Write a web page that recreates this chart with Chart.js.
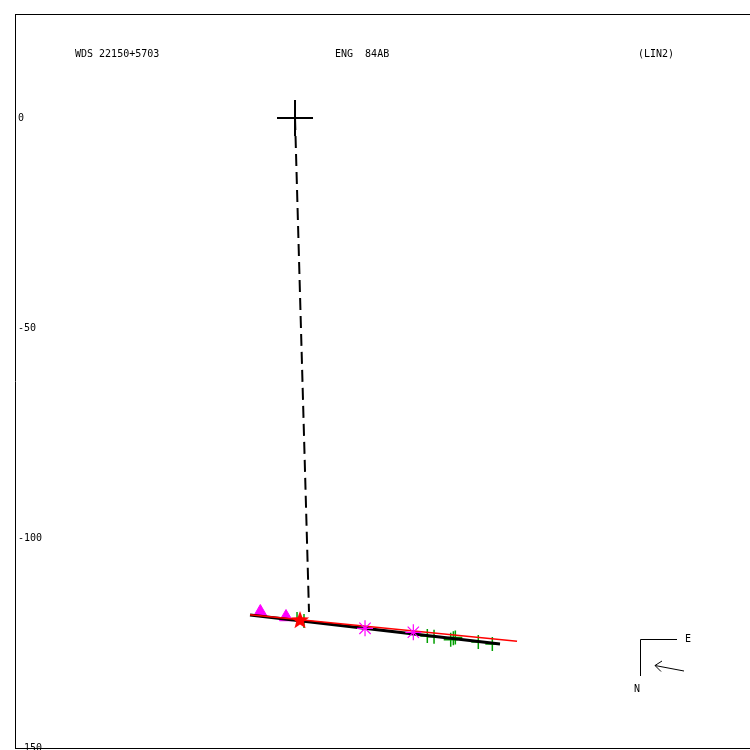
<!DOCTYPE html>
<html>
<head>
<meta charset="utf-8">
<script src="https://cdn.jsdelivr.net/npm/chart.js@4/dist/chart.umd.min.js"></script>
<style>
html,body{margin:0;padding:0;background:#fff;}
canvas{display:block;}
</style>
</head>
<body>
<canvas id="c" width="750" height="750"></canvas>
<script>
// ---- data ----
const titleLeft = "WDS 22150+5703";
const titleMid = "ENG  84AB";
const titleRight = "(LIN2)";
const yTickValues = [0, -50, -100, -150];

const primaryX = [0];
const primaryY = [0];

const dashX = [0, 3.33];
const dashY = [0, -117.6];

const blackLineX = [-10.71, 48.81];
const blackLineY = [-118.33, -125.24];

const redLineX = [-10.71, 52.86];
const redLineY = [-118.26, -124.6];

const triangleX = [-8.26, -2.14];
const triangleY = [-117.62, -118.81];

const starX = [1.19];
const starY = [-119.52];

const asteriskX = [16.67, 28.17];
const asteriskY = [-121.5, -122.45];

const plusX = [0.48, 2.14, 31.5, 33.1, 37.07, 37.7, 38.17, 43.64, 46.98];
const plusY = [-119.29, -119.76, -123.33, -123.5, -124.2, -123.88, -123.69, -124.76, -125.24];

const xMin = -66.67, xMax = 108.33;
const yMin = -150, yMax = 24.76;

function pts(xs, ys){ return xs.map((x,i)=>({x:x, y:ys[i]})); }

// filled red star marker
const starImg = document.createElement('canvas');
starImg.width = 20; starImg.height = 20;
(function(){
  const g = starImg.getContext('2d');
  g.fillStyle = '#ff0000';
  g.beginPath();
  for (let i=0;i<10;i++){
    const r = (i%2===0) ? 9.5 : 4;
    const a = -Math.PI/2 + i*Math.PI/5;
    const px = 10 + r*Math.cos(a), py = 10.5 + r*Math.sin(a);
    if (i===0) g.moveTo(px,py); else g.lineTo(px,py);
  }
  g.closePath();
  g.fill();
})();

const FONT = '10px "DejaVu Sans Mono", "Liberation Mono", monospace';

const decor = {
  id: 'decor',
  afterDraw(chart){
    const ctx = chart.ctx;
    const a = chart.chartArea;
    ctx.save();
    ctx.strokeStyle = '#000';
    ctx.lineWidth = 1;
    ctx.beginPath();
    ctx.moveTo(a.left, a.top + 0.5); ctx.lineTo(a.right + 2, a.top + 0.5);
    ctx.moveTo(a.left, a.bottom + 0.5); ctx.lineTo(a.right + 2, a.bottom + 0.5);
    ctx.stroke();

    ctx.fillStyle = '#000';
    ctx.font = FONT;
    ctx.textBaseline = 'middle';
    ctx.textAlign = 'left';
    ctx.fillText(titleLeft, 75, 54);
    ctx.fillText(titleMid, 335, 54);
    ctx.fillText(titleRight, 638, 54);

    // compass
    ctx.beginPath();
    ctx.moveTo(640.5, 676); ctx.lineTo(640.5, 639.5); ctx.lineTo(677, 639.5);
    ctx.stroke();
    ctx.textAlign = 'center';
    ctx.fillText('E', 688, 639);
    ctx.fillText('N', 637, 689);
    ctx.beginPath();
    ctx.moveTo(684, 671); ctx.lineTo(655, 665.5);
    ctx.moveTo(655, 665.5); ctx.lineTo(662, 661);
    ctx.moveTo(655, 665.5); ctx.lineTo(661, 671.5);
    ctx.stroke();
    ctx.restore();
  }
};

new Chart(document.getElementById('c'), {
  type: 'scatter',
  data: {
    datasets: [
      { label:'star', data: pts(starX, starY), pointStyle: starImg, pointRadius: 10, order: 0 },
      { label:'asterisk', data: pts(asteriskX, asteriskY), pointStyle: 'star', pointRadius: 8, borderColor: '#ff00ff', borderWidth: 1.2, order: 1 },
      { label:'red', data: pts(redLineX, redLineY), showLine: true, borderColor: '#ff0000', borderWidth: 1.5, pointRadius: 0, order: 2 },
      { label:'black', data: pts(blackLineX, blackLineY), showLine: true, borderColor: '#000', borderWidth: 3, pointRadius: 0, order: 3 },
      { label:'dash', data: pts(dashX, dashY), showLine: true, borderColor: '#000', borderWidth: 2, borderDash: [12, 6], pointRadius: 0, order: 4 },
      { label:'primary', data: pts(primaryX, primaryY), pointStyle: 'cross', pointRadius: 18, borderColor: '#000', borderWidth: 2, order: 5 },
      { label:'triangle', data: pts(triangleX, triangleY), pointStyle: 'triangle', pointRadius: 7.5, backgroundColor: '#ff00ff', borderColor: '#ff00ff', borderWidth: 1, order: 6 },
      { label:'plus', data: pts(plusX, plusY), pointStyle: 'cross', pointRadius: 7, borderColor: '#00a000', borderWidth: 1.5, order: 7 }
    ]
  },
  options: {
    responsive: false,
    animation: false,
    events: [],
    layout: { autoPadding: false, padding: { left: 15, top: 14, right: 0, bottom: 2 } },
    plugins: { legend: { display: false }, tooltip: { enabled: false } },
    scales: {
      x: { type: 'linear', min: xMin, max: xMax, display: false },
      y: {
        type: 'linear', min: yMin, max: yMax, position: 'left',
        grid: { display: false, drawTicks: false },
        border: { display: true, color: '#000', width: 1 },
        afterFit(s){ s.width = 0; s.paddingTop = 0; s.paddingBottom = 0; s.paddingLeft = 0; s.paddingRight = 0; },
        afterBuildTicks(s){ s.ticks = yTickValues.map(v => ({ value: v })); },
        ticks: {
          mirror: true, padding: 3, color: '#000',
          font: { family: '"DejaVu Sans Mono", "Liberation Mono", monospace', size: 10 },
          callback: v => String(v)
        }
      }
    }
  },
  plugins: [decor]
});
</script>
</body>
</html>
